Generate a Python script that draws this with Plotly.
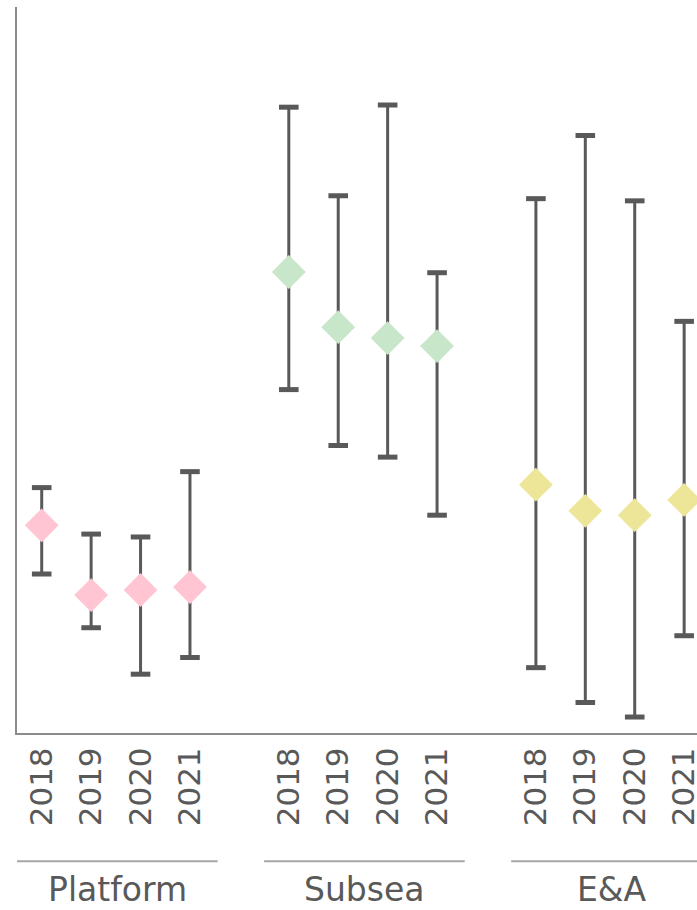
import plotly.graph_objects as go

# Segment names and survey years
groups = ["Platform", "Subsea", "E&A"]
years = ["2018", "2019", "2020", "2021"]

# Average, high and low values per segment and year
platform_avg = [28.6, 19.0, 19.7, 20.1]
platform_high = [33.8, 27.4, 27.0, 36.0]
platform_low = [21.9, 14.5, 8.1, 10.4]

subsea_avg = [63.5, 55.9, 54.4, 53.3]
subsea_high = [86.2, 74.0, 86.5, 63.4]
subsea_low = [47.3, 39.6, 38.0, 30.0]

ea_avg = [34.2, 30.6, 30.0, 32.1]
ea_high = [73.6, 82.3, 73.3, 56.7]
ea_low = [9.0, 4.2, 2.2, 13.4]

series = [
    (platform_avg, platform_high, platform_low, "rgb(255,197,211)"),
    (subsea_avg, subsea_high, subsea_low, "rgb(200,230,202)"),
    (ea_avg, ea_high, ea_low, "rgb(237,230,152)"),
]

STEM = "#595959"
TEXT = "#595959"
AXIS = "#8c8c8c"
GAP = len(years) + 1  # one empty slot between segments

fig = go.Figure()
tickvals, ticktext = [], []

for g, (avg, high, low, color) in enumerate(series):
    xs = [g * GAP + j for j in range(len(years))]
    tickvals += xs
    ticktext += years
    fig.add_trace(go.Scatter(
        x=xs, y=avg, mode="markers",
        marker=dict(symbol="diamond", size=26, color=color, line=dict(width=0)),
        error_y=dict(
            type="data", symmetric=False,
            array=[h - a for h, a in zip(high, avg)],
            arrayminus=[a - l for a, l in zip(avg, low)],
            color=STEM, thickness=3, width=0,
        ),
        showlegend=False, hoverinfo="skip",
    ))
    # end caps on the whiskers
    fig.add_trace(go.Scatter(
        x=xs + xs, y=high + low, mode="markers",
        marker=dict(symbol="line-ew", size=14, line=dict(width=5, color=STEM)),
        showlegend=False, hoverinfo="skip",
    ))

# Segment underlines and names below the year labels
for g, name in enumerate(groups):
    center = g * GAP + (len(years) - 1) / 2 + 0.03
    fig.add_shape(
        type="line", xref="x", yref="paper",
        x0=center - 2.03, x1=center + 2.03, y0=-0.1765, y1=-0.1765,
        line=dict(color="#a6a6a6", width=2),
    )
    fig.add_annotation(
        x=center, y=-0.216, xref="x", yref="paper",
        text=name, showarrow=False,
        font=dict(family="DejaVu Sans", size=33, color=TEXT),
        xanchor="center", yanchor="middle",
    )

fig.update_layout(
    width=697, height=910,
    margin=dict(l=17, r=0, t=7, b=177),
    paper_bgcolor="white", plot_bgcolor="white",
    font=dict(family="DejaVu Sans", color=TEXT),
    xaxis=dict(
        range=[-0.5, 13.26], tickvals=tickvals, ticktext=ticktext,
        tickangle=-90, tickfont=dict(size=31, color=TEXT),
        showgrid=False, zeroline=False, ticks="",
        showline=True, linecolor=AXIS, linewidth=2,
        ticklabelstandoff=0, ticklabeloverflow="allow",
        automargin=False,
    ),
    yaxis=dict(
        range=[0, 100], showticklabels=False, showgrid=False,
        zeroline=False, ticks="",
        showline=True, linecolor=AXIS, linewidth=2,
        automargin=False,
    ),
)

fig.write_html("out.html")
